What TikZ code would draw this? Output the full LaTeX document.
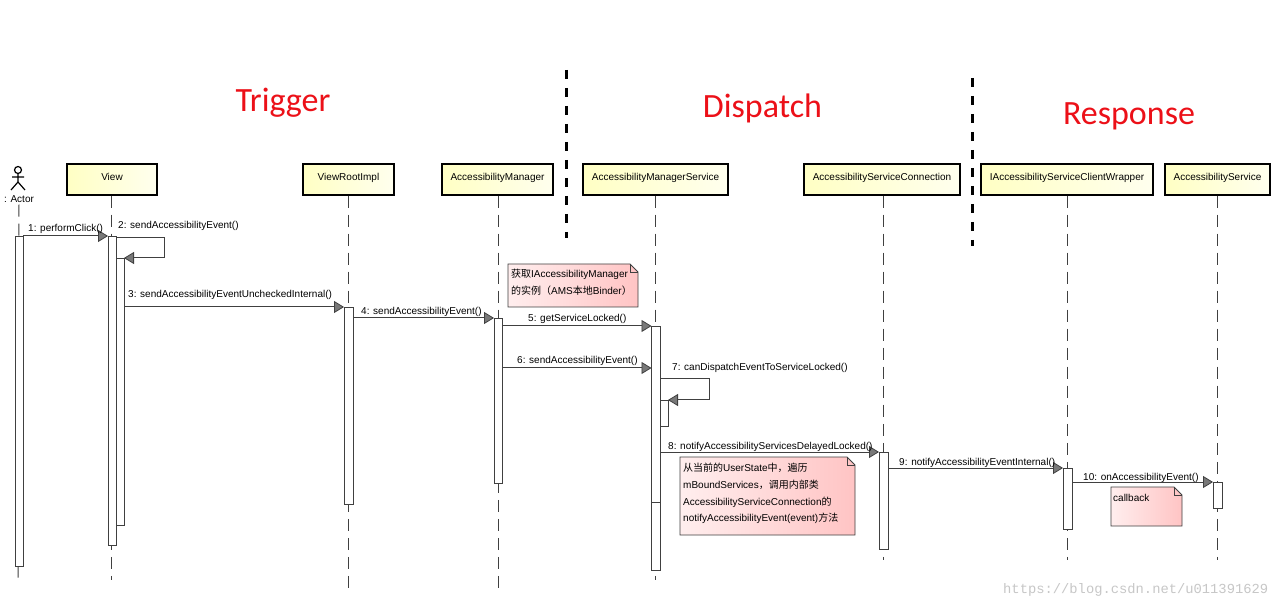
\documentclass[tikz,border=0pt]{standalone}
\usepackage{fontspec}
\setmainfont{Liberation Sans}
\newfontfamily\cjk{Noto Sans CJK SC}
\newfontfamily\titlefont{Carlito}
\newfontfamily\wmfont{Liberation Mono}
\usetikzlibrary{arrows.meta}
\definecolor{boxL}{RGB}{255,255,196}
\definecolor{boxR}{RGB}{255,255,238}
\definecolor{noteL}{RGB}{255,238,238}
\definecolor{noteR}{RGB}{255,196,196}
\definecolor{lineC}{RGB}{64,64,64}
\definecolor{tipC}{RGB}{120,120,120}
\definecolor{titleC}{RGB}{236,16,24}
\newcommand\mynote[5]{%
  \path[draw=lineC, line width=0.9pt, left color=noteL, right color=noteR]
    (#1,#2) -- ({#3-8},#2) -- (#3,{#2+8}) -- (#3,#4) -- (#1,#4) -- cycle;
  \draw[lineC, line width=0.9pt] ({#3-8},#2) -- ({#3-8},{#2+8}) -- (#3,{#2+8});
  \node[notetext] (#5) at ({#1+2},{#2+2}) {};
}
\begin{document}
\begin{tikzpicture}[x=1pt,y=-1pt,
  lifebox/.style={draw=black, line width=1.5pt, left color=boxL, right color=boxR,
    minimum height=31pt, inner sep=0pt, text height=7.2pt, text depth=5pt,
    font=\fontsize{10}{12}\selectfont},
  lifeline/.style={draw=lineC, line width=1pt, dash pattern=on 12pt off 7pt},
  sep/.style={draw=black, line width=3pt, dash pattern=on 9pt off 9pt},
  bar/.style={draw=lineC, fill=white, line width=0.9pt},
  msg/.style={draw=lineC, line width=1pt,
    -{Triangle[length=10pt,width=12pt,fill=tipC,line width=0.8pt]}},
  lbl/.style={anchor=base west, inner sep=0pt, font=\fontsize{10}{12}\selectfont},
  notetext/.style={anchor=base west, inner sep=0pt, font=\fontsize{10}{12}\selectfont},
  ttl/.style={anchor=base, inner sep=0pt, text=titleC, font=\titlefont\fontsize{34}{40}\selectfont}
]
\useasboundingbox (0,0) rectangle (1277,609);
\fill[white] (0,0) rectangle (1277,609);

% titles
\node[ttl] (tTrigger) at (283,112) {Trigger};
\node[ttl] (tDispatch) at (762.5,118) {Dispatch};
\node[ttl] (tResponse) at (1129,125) {Response};

% separators
\coordinate (s1a) at (566,70); \coordinate (s1b) at (566,238);
\coordinate (s2a) at (972,78); \coordinate (s2b) at (972,246);
\draw[sep] (s1a) -- (s1b);
\draw[sep] (s2a) -- (s2b);

% actor
\node[draw=black, line width=1.2pt, circle, minimum size=7pt, inner sep=0pt] (head) at (18,170) {};
\coordinate (neck) at (18,173.5); \coordinate (hip) at (18,182);
\coordinate (armL) at (12,177); \coordinate (armR) at (24,177);
\coordinate (legL) at (11,190); \coordinate (legR) at (25,190);
\draw[black, line width=1.2pt] (head.south) -- (hip) (armL) -- (armR) (legL) -- (hip) -- (legR);
\node[inner sep=0pt, font=\fontsize{10}{12}\selectfont] (actor) at (19,199) {: Actor};

% lifeline headers
\node[lifebox, minimum width=90pt] (view) at (112,179.5) {View};
\node[lifebox, minimum width=91pt] (vri) at (348.5,179.5) {ViewRootImpl};
\node[lifebox, minimum width=111pt] (am) at (497.5,179.5) {AccessibilityManager};
\node[lifebox, minimum width=145pt] (ams) at (655.5,179.5) {AccessibilityManagerService};
\node[lifebox, minimum width=156pt] (asc) at (882,179.5) {AccessibilityServiceConnection};
\node[lifebox, minimum width=172pt] (icw) at (1067,179.5) {IAccessibilityServiceClientWrapper};
\node[lifebox, minimum width=105pt] (as) at (1217.5,179.5) {AccessibilityService};

% lifelines
\coordinate (actorEnd) at (18,582);
\coordinate (viewEnd) at (111,580);
\coordinate (vriEnd) at (348,590);
\coordinate (amEnd) at (498,591);
\coordinate (amsEnd) at (655,580);
\coordinate (ascEnd) at (883,560);
\coordinate (icwEnd) at (1067,560);
\coordinate (asEnd) at (1217,560);
\draw[lifeline] (actor.south) ++(0,2) -- (actorEnd);
\draw[lifeline] (view.south -| viewEnd) -- (viewEnd);
\draw[lifeline] (vri.south -| vriEnd) -- (vriEnd);
\draw[lifeline] (am.south -| amEnd) -- (amEnd);
\draw[lifeline] (ams.south -| amsEnd) -- (amsEnd);
\draw[lifeline] (asc.south -| ascEnd) -- (ascEnd);
\draw[lifeline] (icw.south -| icwEnd) -- (icwEnd);
\draw[lifeline] (as.south -| asEnd) -- (asEnd);

% activation bars
\draw[bar] (15,236) rectangle (23,566);
\draw[bar] (108,236) rectangle (116,545);
\draw[bar] (116,258) rectangle (124,525);
\draw[bar] (344,307) rectangle (353,504);
\draw[bar] (494,318) rectangle (502,483);
\draw[bar] (651.5,326) rectangle (660,570);
\draw[lineC, line width=0.9pt] (651.5,502) -- (660,502);
\draw[bar] (660,400) rectangle (668,426);
\draw[bar] (879,452) rectangle (888,549);
\draw[bar] (1063,468) rectangle (1072,529);
\draw[bar] (1213,482) rectangle (1222,508);

% message end points
\coordinate (m1s) at (23,236);    \coordinate (m1e) at (108,236);
\coordinate (m2s) at (116,238);   \coordinate (m2a) at (164,238);
\coordinate (m2b) at (164,258);   \coordinate (m2e) at (124,258);
\coordinate (m3s) at (124,307);   \coordinate (m3e) at (344,307);
\coordinate (m4s) at (353,318);   \coordinate (m4e) at (494,318);
\coordinate (m5s) at (502,326);   \coordinate (m5e) at (651.5,326);
\coordinate (m6s) at (502,368);   \coordinate (m6e) at (651.5,368);
\coordinate (m7s) at (660,379);   \coordinate (m7a) at (709,379);
\coordinate (m7b) at (709,400);   \coordinate (m7e) at (668,400);
\coordinate (m8s) at (660,452);   \coordinate (m8e) at (879,452);
\coordinate (m9s) at (888,468);   \coordinate (m9e) at (1063,468);
\coordinate (m10s) at (1072,482); \coordinate (m10e) at (1213,482);

\draw[msg] (m1s) -- (m1e);
\draw[msg] (m2s) -- (m2a) -- (m2b) -- (m2e);
\draw[msg] (m3s) -- (m3e);
\draw[msg] (m4s) -- (m4e);
\draw[msg] (m5s) -- (m5e);
\draw[msg] (m6s) -- (m6e);
\draw[msg] (m7s) -- (m7a) -- (m7b) -- (m7e);
\draw[msg] (m8s) -- (m8e);
\draw[msg] (m9s) -- (m9e);
\draw[msg] (m10s) -- (m10e);

% message labels
\node[lbl] (l1) at (28,232) {1: performClick()};
\node[lbl] (l2) at (118,229) {2: sendAccessibilityEvent()};
\node[lbl] (l3) at (128,298) {3: sendAccessibilityEventUncheckedInternal()};
\node[lbl] (l4) at (361,315) {4: sendAccessibilityEvent()};
\node[lbl] (l5) at (528,322) {5: getServiceLocked()};
\node[lbl] (l6) at (517,364) {6: sendAccessibilityEvent()};
\node[lbl] (l7) at (672,371) {7: canDispatchEventToServiceLocked()};
\node[lbl] (l8) at (668,449) {8: notifyAccessibilityServicesDelayedLocked()};
\node[lbl] (l9) at (899,465) {9: notifyAccessibilityEventInternal()};
\node[lbl] (l10) at (1083,480) {10: onAccessibilityEvent()};

% notes
\mynote{508}{264}{638}{307}{n1}
\node[notetext] (n1a) at (511,278) {{\cjk 获取}IAccessibilityManager};
\node[notetext] (n1b) at (511,295) {{\cjk 的实例（}AMS{\cjk 本地}Binder{\cjk ）}};
\mynote{680}{457}{855}{535}{n2}
\node[notetext] (n2a) at (683,471) {{\cjk 从当前的}UserState{\cjk 中，遍历}};
\node[notetext] (n2b) at (683,488) {mBoundServices{\cjk ，调用内部类}};
\node[notetext] (n2c) at (683,505) {AccessibilityServiceConnection{\cjk 的}};
\node[notetext] (n2d) at (683,521) {notifyAccessibilityEvent(event){\cjk 方法}};
\mynote{1111}{487}{1182}{526}{n3}
\node[notetext] (n3a) at (1113,501) {callback};

% watermark
\node[anchor=base west, inner sep=0pt, text=black!22,
  font=\wmfont\fontsize{13.8}{15}\selectfont] (wm) at (1003,593) {https://blog.csdn.net/u011391629};
\end{tikzpicture}
\end{document}
